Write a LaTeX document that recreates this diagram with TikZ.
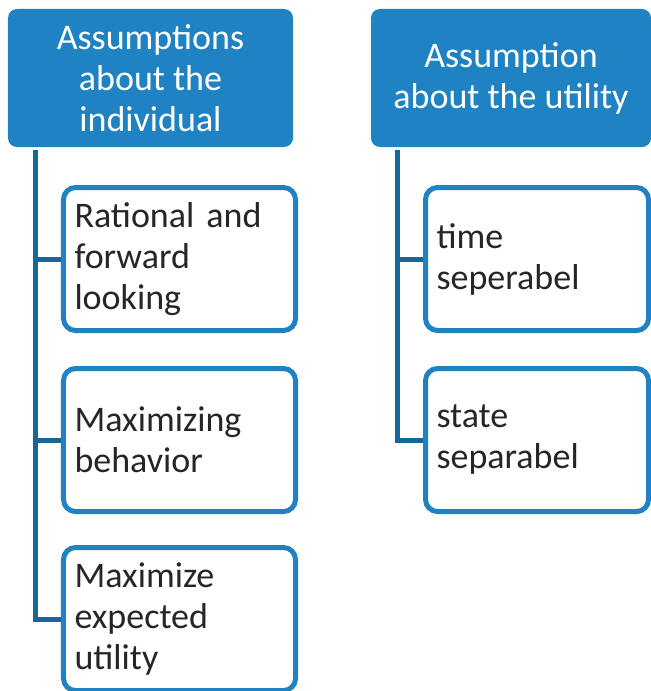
\documentclass[tikz,border=0pt]{standalone}
\usepackage{fontspec}
\setmainfont{Carlito}
\definecolor{hdrblue}{RGB}{31,130,194}
\definecolor{linkblue}{RGB}{21,102,153}
\definecolor{txtgrey}{RGB}{38,38,38}
\begin{document}
\begin{tikzpicture}[x=1bp, y=-1bp,
        header/.style={rectangle, rounded corners=9bp, fill=hdrblue, text=white,
            minimum width=#1, minimum height=138bp, inner sep=4bp, align=center,
            font=\fontsize{36bp}{41bp}\selectfont},
        item/.style={rectangle, rounded corners=12bp, draw=hdrblue, line width=5bp,
            fill=white, text=txtgrey, minimum width=#1, text width=#1-22bp,
            minimum height=143bp, inner xsep=11bp, align=left,
            font=\fontsize{36bp}{41bp}\selectfont},
        conn/.style={draw=linkblue, line width=5bp}]
    \useasboundingbox (0,0) rectangle (651,691);
    % left column
    \node[header=285bp] (indiv) at (150.5,78) {Assumptions\\about the\\individual};
    \node[item=232bp] (rational) at (179.5,259) {Rational and\\forward\\looking};
    \node[item=232bp] (maxbeh) at (179.5,440) {Maximizing\\behavior};
    \node[item=232bp] (maxexp) at (179.5,619) {Maximize\\expected\\utility};
    \coordinate (trunkL) at (35,150);
    \draw[conn] (trunkL) |- (rational.west);
    \draw[conn] (trunkL) |- (maxbeh.west);
    \draw[conn] (trunkL) |- (maxexp.west);
    % right column
    \node[header=280bp] (util) at (511,78) {Assumption\\about the utility};
    \node[item=223bp] (timesep) at (537,259) {time\\seperabel};
    \node[item=223bp] (statesep) at (537,440) {state\\separabel};
    \coordinate (trunkR) at (397.5,150);
    \draw[conn] (trunkR) |- (timesep.west);
    \draw[conn] (trunkR) |- (statesep.west);
\end{tikzpicture}
\end{document}
